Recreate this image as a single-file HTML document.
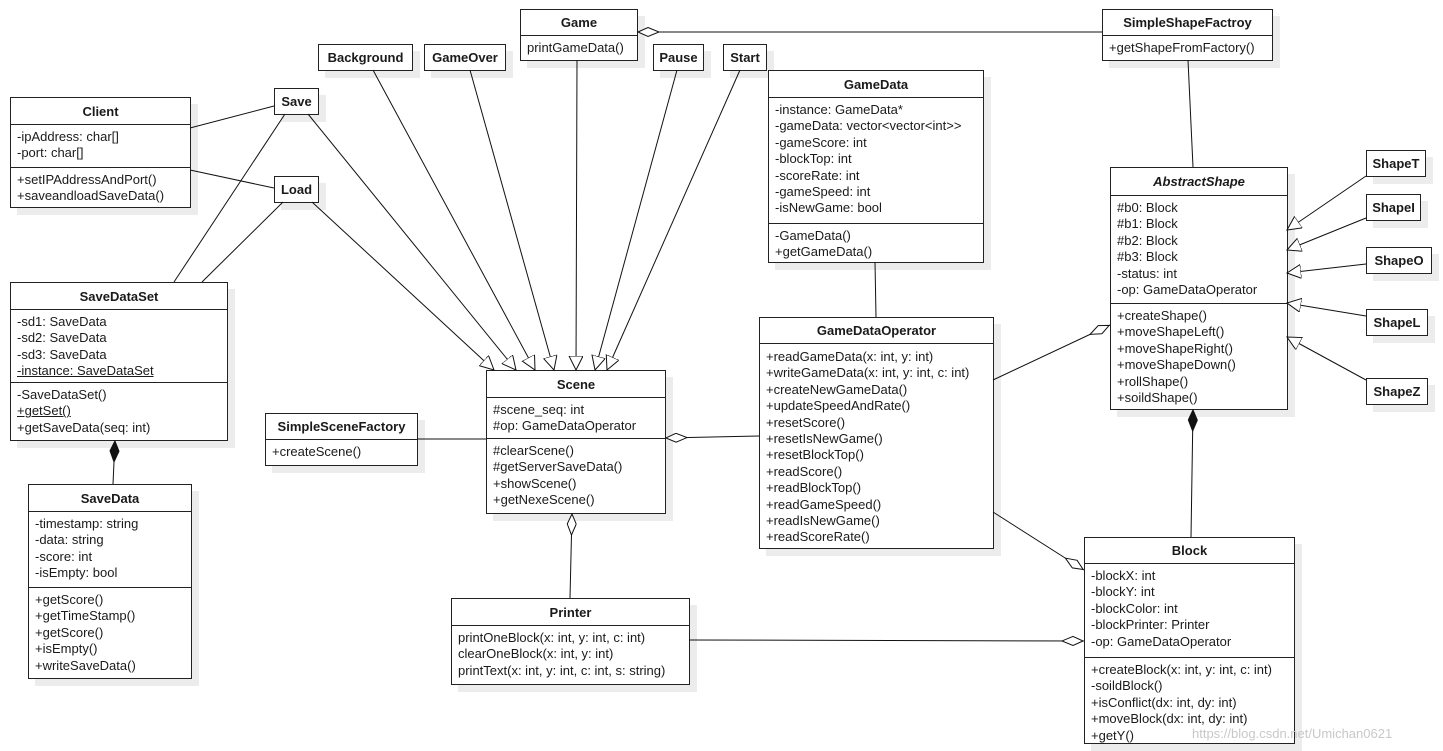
<!DOCTYPE html>
<html><head><meta charset="utf-8"><style>
body{margin:0;width:1443px;height:751px;background:#fff;position:relative;overflow:hidden;font-family:"Liberation Sans",Arial,sans-serif;font-size:13px;color:#1a1a1a}
.b{position:absolute;border:1px solid #222;background:#fff;box-shadow:7px 7px 0 #ececec;box-sizing:border-box}
.h{font-weight:bold;text-align:center;border-bottom:1px solid #222;box-sizing:border-box;display:flex;align-items:center;justify-content:center}
.c{padding:4px 6px;line-height:16.4px;white-space:nowrap;box-sizing:border-box}
.c+.c{border-top:1px solid #222}
.s{font-weight:bold;display:flex;align-items:center;justify-content:center;border-width:1.5px}
u{text-decoration:underline}
svg{position:absolute;left:0;top:0;z-index:5;pointer-events:none}
</style></head><body>
<svg width="1443" height="751">
<defs>
<marker id="t" markerUnits="userSpaceOnUse" markerWidth="16" markerHeight="16" refX="14" refY="7" orient="auto"><polygon points="0,0 14,7 0,14" fill="#fff" stroke="#111" stroke-width="1"/></marker>
<marker id="d" markerUnits="userSpaceOnUse" markerWidth="24" markerHeight="12" refX="0" refY="5" orient="auto"><polygon points="1,5 11,0.5 22,5 11,9.5" fill="#fff" stroke="#111" stroke-width="1"/></marker>
<marker id="f" markerUnits="userSpaceOnUse" markerWidth="24" markerHeight="12" refX="0" refY="5" orient="auto"><polygon points="1,5 11,0.5 22,5 11,9.5" fill="#111" stroke="#111" stroke-width="1"/></marker>
</defs>
<g stroke="#111" stroke-width="1" fill="none">
<path d="M637,32 L1102,32" marker-start="url(#d)"/>
<path d="M1188,60 L1193,167"/>
<path d="M190,128 L274,106"/>
<path d="M190,170 L274,188"/>
<path d="M285,114 L174,282"/>
<path d="M283,202 L202,282"/>
<path d="M312,202 L494,370" marker-end="url(#t)"/>
<path d="M308,114 L516,370" marker-end="url(#t)"/>
<path d="M373,70 L535,370" marker-end="url(#t)"/>
<path d="M470,70 L554,370" marker-end="url(#t)"/>
<path d="M577,60 L576,370" marker-end="url(#t)"/>
<path d="M677,70 L595,370" marker-end="url(#t)"/>
<path d="M740,70 L607,370" marker-end="url(#t)"/>
<path d="M875,262 L876,317"/>
<path d="M665,438 L759,436" marker-start="url(#d)"/>
<path d="M1110,325 L993,380" marker-start="url(#d)"/>
<path d="M1084,570 L993,512" marker-start="url(#d)"/>
<path d="M1193,409 L1191,537" marker-start="url(#f)"/>
<path d="M572,513 L570,598" marker-start="url(#d)"/>
<path d="M1084,641 L689,640" marker-start="url(#d)"/>
<path d="M417,439 L486,439"/>
<path d="M115,440 L113,484" marker-start="url(#f)"/>
<path d="M1366,176 L1287,230" marker-end="url(#t)"/>
<path d="M1366,218 L1287,250" marker-end="url(#t)"/>
<path d="M1366,264 L1287,273" marker-end="url(#t)"/>
<path d="M1366,316 L1287,303" marker-end="url(#t)"/>
<path d="M1366,380 L1287,337" marker-end="url(#t)"/>
</g>
</svg>

<div class="b" style="left:520px;top:9px;width:118px;height:52px"><div class="h" style="height:26px">Game</div><div class="c">printGameData()</div></div>
<div class="b" style="left:1102px;top:9px;width:171px;height:52px"><div class="h" style="height:26px">SimpleShapeFactroy</div><div class="c">+getShapeFromFactory()</div></div>
<div class="b s" style="left:318px;top:44px;width:95px;height:27px">Background</div>
<div class="b s" style="left:424px;top:44px;width:82px;height:27px">GameOver</div>
<div class="b s" style="left:653px;top:44px;width:51px;height:27px">Pause</div>
<div class="b s" style="left:723px;top:44px;width:44px;height:27px">Start</div>
<div class="b s" style="left:274px;top:88px;width:45px;height:27px">Save</div>
<div class="b s" style="left:274px;top:176px;width:45px;height:27px">Load</div>
<div class="b s" style="left:1366px;top:150px;width:60px;height:27px">ShapeT</div>
<div class="b s" style="left:1366px;top:194px;width:55px;height:27px">ShapeI</div>
<div class="b s" style="left:1366px;top:247px;width:66px;height:27px">ShapeO</div>
<div class="b s" style="left:1366px;top:309px;width:62px;height:27px">ShapeL</div>
<div class="b s" style="left:1366px;top:378px;width:62px;height:27px">ShapeZ</div>

<div class="b" style="left:10px;top:97px;width:181px;height:111px"><div class="h" style="height:27px">Client</div><div class="c" style="height:42px">-ipAddress: char[]<br>-port: char[]</div><div class="c">+setIPAddressAndPort()<br>+saveandloadSaveData()</div></div>

<div class="b" style="left:768px;top:70px;width:216px;height:193px"><div class="h" style="height:27px">GameData</div><div class="c" style="height:125px">-instance: GameData*<br>-gameData: vector&lt;vector&lt;int&gt;&gt;<br>-gameScore: int<br>-blockTop: int<br>-scoreRate: int<br>-gameSpeed: int<br>-isNewGame: bool</div><div class="c">-GameData()<br>+getGameData()</div></div>

<div class="b" style="left:1110px;top:167px;width:178px;height:243px"><div class="h" style="height:28px;font-style:italic">AbstractShape</div><div class="c" style="height:107px">#b0: Block<br>#b1: Block<br>#b2: Block<br>#b3: Block<br>-status: int<br>-op: GameDataOperator</div><div class="c">+createShape()<br>+moveShapeLeft()<br>+moveShapeRight()<br>+moveShapeDown()<br>+rollShape()<br>+soildShape()</div></div>

<div class="b" style="left:10px;top:282px;width:218px;height:159px"><div class="h" style="height:27px">SaveDataSet</div><div class="c" style="height:72px">-sd1: SaveData<br>-sd2: SaveData<br>-sd3: SaveData<br><u>-instance: SaveDataSet</u></div><div class="c">-SaveDataSet()<br><u>+getSet()</u><br>+getSaveData(seq: int)</div></div>

<div class="b" style="left:28px;top:484px;width:164px;height:195px"><div class="h" style="height:27px">SaveData</div><div class="c" style="height:75px">-timestamp: string<br>-data: string<br>-score: int<br>-isEmpty: bool</div><div class="c">+getScore()<br>+getTimeStamp()<br>+getScore()<br>+isEmpty()<br>+writeSaveData()</div></div>

<div class="b" style="left:265px;top:413px;width:153px;height:53px"><div class="h" style="height:26px">SimpleSceneFactory</div><div class="c">+createScene()</div></div>

<div class="b" style="left:486px;top:370px;width:180px;height:144px"><div class="h" style="height:27px">Scene</div><div class="c" style="height:40px">#scene_seq: int<br>#op: GameDataOperator</div><div class="c">#clearScene()<br>#getServerSaveData()<br>+showScene()<br>+getNexeScene()</div></div>

<div class="b" style="left:759px;top:317px;width:235px;height:232px"><div class="h" style="height:26px">GameDataOperator</div><div class="c" style="padding-top:5px">+readGameData(x: int, y: int)<br>+writeGameData(x: int, y: int, c: int)<br>+createNewGameData()<br>+updateSpeedAndRate()<br>+resetScore()<br>+resetIsNewGame()<br>+resetBlockTop()<br>+readScore()<br>+readBlockTop()<br>+readGameSpeed()<br>+readIsNewGame()<br>+readScoreRate()</div></div>

<div class="b" style="left:451px;top:598px;width:239px;height:87px"><div class="h" style="height:27px">Printer</div><div class="c">printOneBlock(x: int, y: int, c: int)<br>clearOneBlock(x: int, y: int)<br>printText(x: int, y: int, c: int, s: string)</div></div>

<div class="b" style="left:1084px;top:537px;width:211px;height:207px"><div class="h" style="height:26px">Block</div><div class="c" style="height:93px">-blockX: int<br>-blockY: int<br>-blockColor: int<br>-blockPrinter: Printer<br>-op: GameDataOperator</div><div class="c">+createBlock(x: int, y: int, c: int)<br>-soildBlock()<br>+isConflict(dx: int, dy: int)<br>+moveBlock(dx: int, dy: int)<br>+getY()</div></div>

<div style="position:absolute;left:1192px;top:726px;color:#c8c8c8;font-size:13px;z-index:6">https://blog.csdn.net/Umichan0621</div>
</body></html>
